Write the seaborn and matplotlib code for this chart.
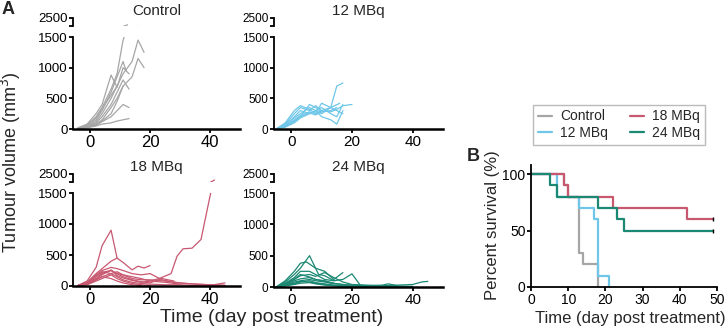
import matplotlib
matplotlib.use('Agg')
import matplotlib.pyplot as plt
import seaborn as sns
import pandas as pd

# colours per group
groups = ['Control', '12 MBq', '18 MBq', '24 MBq']
colors = ['#a6a6a6', '#6ec6e8', '#c85870', '#1b8873']

# ---- tumour volume per mouse (day, mm3) ----
ctrl_days = [
    [-4, -1, 2, 4, 7, 9, 11, 12.5],
    [-4, -1, 2, 4, 7, 9, 11, 14, 16, 18],
    [-4, -1, 2, 4, 7, 9, 11, 14, 16, 18],
    [-4, -1, 2, 4, 7, 9, 11, 13],
    [-4, -1, 2, 4, 7, 9, 11, 12],
    [-4, -1, 2, 4, 7, 9, 11, 13],
    [-4, -1, 2, 4, 7, 9, 11, 13],
    [-4, -1, 2, 4, 7, 9, 11, 13],
    [-4, -1, 2, 4, 7, 9, 11],
    [-4, -1, 2, 4, 7, 9],
]
ctrl_vols = [
    [20, 60, 200, 350, 650, 900, 1450, 1650],
    [10, 40, 120, 250, 500, 700, 900, 1100, 1450, 1250],
    [10, 30, 80, 150, 350, 500, 700, 850, 1150, 1000],
    [20, 80, 250, 400, 880, 680, 1000, 900],
    [15, 50, 150, 300, 600, 850, 1100, 950],
    [10, 40, 100, 200, 400, 600, 800, 650],
    [10, 30, 60, 120, 200, 300, 400, 350],
    [5, 20, 50, 80, 100, 130, 150, 170],
    [5, 30, 70, 130, 250, 450, 700],
    [10, 60, 180, 330, 550, 700],
]

mbq12_days = [
    [-5, -2, 1, 3, 6, 8, 10, 13, 15, 17],
    [-5, -2, 1, 3, 6, 8, 10, 13, 15, 17, 20],
    [-5, -2, 1, 3, 6, 8, 10, 13, 15, 17],
    [-5, -2, 1, 3, 6, 8, 10, 13, 15],
    [-5, -2, 1, 3, 6, 8, 10, 13, 15, 17],
    [-5, -2, 1, 3, 6, 8, 10, 13, 16],
    [-5, -2, 1, 3, 6, 8, 10, 13, 15, 17],
    [-5, -2, 1, 3, 6, 8, 10],
]
mbq12_vols = [
    [0, 80, 250, 350, 300, 380, 300, 350, 700, 750],
    [0, 50, 150, 220, 280, 250, 300, 280, 320, 380, 400],
    [0, 60, 200, 300, 250, 300, 200, 150, 80, 300],
    [0, 40, 120, 200, 400, 350, 280, 300, 350],
    [0, 100, 300, 380, 320, 250, 420, 350, 300, 250],
    [0, 30, 100, 180, 250, 300, 250, 350, 420],
    [0, 70, 180, 250, 350, 300, 350, 250, 200, 400],
    [0, 50, 130, 200, 260, 230, 280],
]

mbq18_days = [
    [-4, -1, 2, 4, 7, 9],
    [-4, -1, 2, 4, 7, 9, 11, 14, 16, 18, 20],
    [-4, -1, 2, 4, 7, 9, 11, 14, 17, 20, 23, 27, 29, 31, 34, 37, 40, 41.5],
    [-4, -1, 2, 4, 7, 9, 11, 14, 17, 20, 24, 28, 32, 36, 40, 45],
    [-4, -1, 2, 4, 7, 9, 11, 14, 17, 20, 24, 28],
    [-4, -1, 2, 4, 7, 9, 11, 14, 17, 20, 25, 30, 35, 40, 45],
    [-4, -1, 2, 4, 7, 9, 11, 14, 17, 20],
    [-4, -1, 2, 4, 7, 9, 11, 14, 17, 20, 25, 30, 35, 40, 45],
    [-4, -1, 2, 4, 7, 9, 11, 14, 17],
    [-4, -1, 2, 4, 7, 9, 11, 14, 17, 20, 25, 30],
]
mbq18_vols = [
    [10, 80, 300, 650, 900, 450],
    [10, 60, 200, 280, 400, 450, 380, 260, 320, 290, 330],
    [10, 40, 120, 180, 260, 170, 130, 90, 60, 80, 120, 200, 480, 600, 610, 750, 1450, 1750],
    [5, 50, 180, 250, 300, 280, 250, 200, 180, 200, 100, 60, 40, 30, 20, 10],
    [5, 40, 120, 200, 250, 200, 150, 100, 70, 50, 120, 80],
    [5, 30, 100, 150, 200, 150, 100, 60, 40, 30, 20, 20, 10, 10, 50],
    [5, 20, 80, 120, 180, 120, 80, 40, 20, 10],
    [5, 40, 150, 220, 250, 200, 180, 120, 100, 100, 80, 50, 30, 20, 10],
    [5, 30, 100, 150, 120, 80, 50, 20, 10],
    [5, 50, 160, 230, 200, 230, 180, 150, 120, 80, 60, 30],
]

mbq24_days = [
    [-5, -2, 1, 3, 6, 9, 11, 14],
    [-5, -2, 1, 3, 5, 8, 11, 14, 17],
    [-5, -2, 1, 3, 6, 8, 11, 14, 17, 20, 23],
    [-5, -2, 1, 3, 6, 8, 11, 14, 17, 20, 25, 30, 35, 40, 43, 45],
    [-5, -2, 1, 3, 6, 8, 11, 14, 17, 20, 25, 30, 35, 40],
    [-5, -2, 1, 3, 6, 8, 11, 14, 17, 20, 25, 30, 32, 35],
    [-5, -2, 1, 3, 6, 8, 11, 14, 17, 20],
    [-5, -2, 1, 3, 6, 8, 11, 14, 17, 20, 25],
    [-5, -2, 1, 3, 6, 8, 11, 14],
    [-5, -2, 1, 3, 6, 8, 11, 14, 17, 20, 25, 30, 35, 40],
]
mbq24_vols = [
    [0, 80, 200, 300, 500, 200, 180, 100],
    [0, 100, 250, 380, 400, 300, 250, 120, 230],
    [0, 60, 150, 250, 250, 200, 120, 100, 120, 210, 10],
    [0, 50, 120, 180, 200, 170, 230, 150, 80, 40, 30, 20, 30, 40, 80, 90],
    [0, 40, 100, 130, 150, 120, 100, 60, 40, 30, 20, 20, 15, 10],
    [0, 30, 80, 100, 120, 100, 80, 50, 40, 30, 20, 30, 50, 20],
    [0, 20, 50, 80, 100, 70, 50, 30, 20, 10],
    [0, 30, 60, 90, 80, 60, 40, 20, 10, 5, 5],
    [0, 50, 130, 200, 160, 120, 90, 60],
    [0, 20, 40, 60, 70, 50, 30, 20, 20, 15, 10, 10, 10, 5],
]

# ---- survival (Kaplan-Meier steps) ----
surv_ctrl_days = [0, 9, 10, 13, 14, 18]
surv_ctrl = [100, 90, 80, 30, 20, 0]
surv_12_days = [0, 7, 13, 17, 18, 21]
surv_12 = [100, 80, 70, 60, 10, 0]
surv_18_days = [0, 9, 10, 22, 42, 49]
surv_18 = [100, 90, 80, 70, 60, 60]
surv_24_days = [0, 5, 7, 18, 23, 25, 49]
surv_24 = [100, 90, 80, 70, 60, 50, 50]

sns.set_style('ticks')
plt.rcParams['font.family'] = ['Liberation Sans', 'DejaVu Sans']

W, H = 726, 331
fig = plt.figure(figsize=(W / 100, H / 100), dpi=100)


def box(l, r, b, t):
    # pixel edges -> figure fraction rect
    return [l / W, 1 - b / H, (r - l) / W, (b - t) / H]


def long_df(days, vols):
    rows = []
    for i, (d, v) in enumerate(zip(days, vols)):
        for x, y in zip(d, v):
            rows.append({'mouse': i, 'day': x, 'vol': y})
    return pd.DataFrame(rows)


def spaghetti(title, days, vols, color, l, r, b, t, yfs, xfs):
    df = long_df(days, vols)
    ax = fig.add_axes(box(l, r, b, t))
    axt = fig.add_axes(box(l, r, t - 11, t - 19))
    for a in (ax, axt):
        sns.lineplot(data=df, x='day', y='vol', units='mouse', estimator=None,
                     color=color, lw=0.9, ax=a, legend=False)
        a.set_xlim(-5.7, 50)
        a.set_xlabel('')
        a.set_ylabel('')
        a.patch.set_alpha(0)
        a.spines['left'].set_linewidth(1.3)
        a.spines['left'].set_color('k')
        a.tick_params(axis='y', width=1.3, length=3, labelsize=yfs, pad=1,
                      colors='k')
    ax.set_ylim(0, 1500)
    ax.set_yticks([0, 500, 1000, 1500])
    ax.set_xticks([0, 20, 40])
    ax.spines['bottom'].set_linewidth(1.8)
    ax.spines['bottom'].set_color('k')
    ax.tick_params(axis='x', width=1.3, length=3, labelsize=xfs, pad=1,
                   colors='k')
    sns.despine(ax=ax)
    axt.set_ylim(1500, 2500)
    axt.set_yticks([1500, 2500])
    axt.set_yticklabels(['', '2500'])
    axt.set_xticks([])
    sns.despine(ax=axt, bottom=True)
    fig.text((l + r) / 2 / W, 1 - (t - 26) / H, title, ha='center',
             va='center', fontsize=11)


spaghetti('Control', ctrl_days, ctrl_vols, colors[0], 73, 240, 129, 37, 9.5, 12)
spaghetti('12 MBq', mbq12_days, mbq12_vols, colors[1], 274, 443, 129, 37, 8.5, 11)
spaghetti('18 MBq', mbq18_days, mbq18_vols, colors[2], 73, 240, 286, 193, 9.5, 12)
spaghetti('24 MBq', mbq24_days, mbq24_vols, colors[3], 274, 443, 287, 193, 8.5, 11)

fig.text(11 / W, 1 - 162 / H, 'Tumour volume (mm$^3$)', rotation=90,
         ha='center', va='center', fontsize=13)
fig.text(272 / W, 1 - 318 / H, 'Time (day post treatment)',
         ha='center', va='center', fontsize=14)
fig.text(2 / W, 1 - 9 / H, 'A', fontsize=13, fontweight='bold', va='center')

# ---- panel B ----
surv_days = [surv_ctrl_days, surv_12_days, surv_18_days, surv_24_days]
surv_vals = [surv_ctrl, surv_12, surv_18, surv_24]
rows = []
for g, d, v in zip(groups, surv_days, surv_vals):
    for x, y in zip(d, v):
        rows.append({'group': g, 'day': x, 'surv': y})
sdf = pd.DataFrame(rows)

axb = fig.add_axes(box(531, 717, 287, 165))
sns.lineplot(data=sdf, x='day', y='surv', hue='group', hue_order=groups,
             palette=colors, estimator=None, drawstyle='steps-post',
             lw=1.6, ax=axb)
for d, v in zip(surv_days, surv_vals):
    if v[-1] > 0:
        axb.plot(d[-1], v[-1], marker='|', color='k', ms=3, mew=1)
axb.set_xlim(0, 50)
axb.set_ylim(0, 108)
axb.set_xticks(range(0, 51, 10))
axb.set_yticks([0, 50, 100])
axb.set_xlabel('')
axb.set_ylabel('')
for s in ('left', 'bottom'):
    axb.spines[s].set_linewidth(1.3)
    axb.spines[s].set_color('k')
axb.tick_params(width=1.3, length=3, labelsize=10, pad=1, colors='k')
sns.despine(ax=axb)
handles, labels = axb.get_legend_handles_labels()
axb.legend(handles, labels, ncol=2, loc='lower left',
           bbox_to_anchor=(533 / W, 1 - 145 / H), bbox_transform=fig.transFigure,
           fontsize=10, frameon=True, fancybox=False, edgecolor='#aaaaaa',
           handlelength=1.0, handletextpad=0.6, columnspacing=1.6,
           borderpad=0.35, labelspacing=0.2, borderaxespad=0)

fig.text(493 / W, 1 - 225 / H, 'Percent survival (%)', rotation=90,
         ha='center', va='center', fontsize=12)
fig.text(630 / W, 1 - 318 / H, 'Time (day post treatment)',
         ha='center', va='center', fontsize=12)
fig.text(467 / W, 1 - 157 / H, 'B', fontsize=13, fontweight='bold', va='center')

fig.savefig('out.png', dpi=100)
